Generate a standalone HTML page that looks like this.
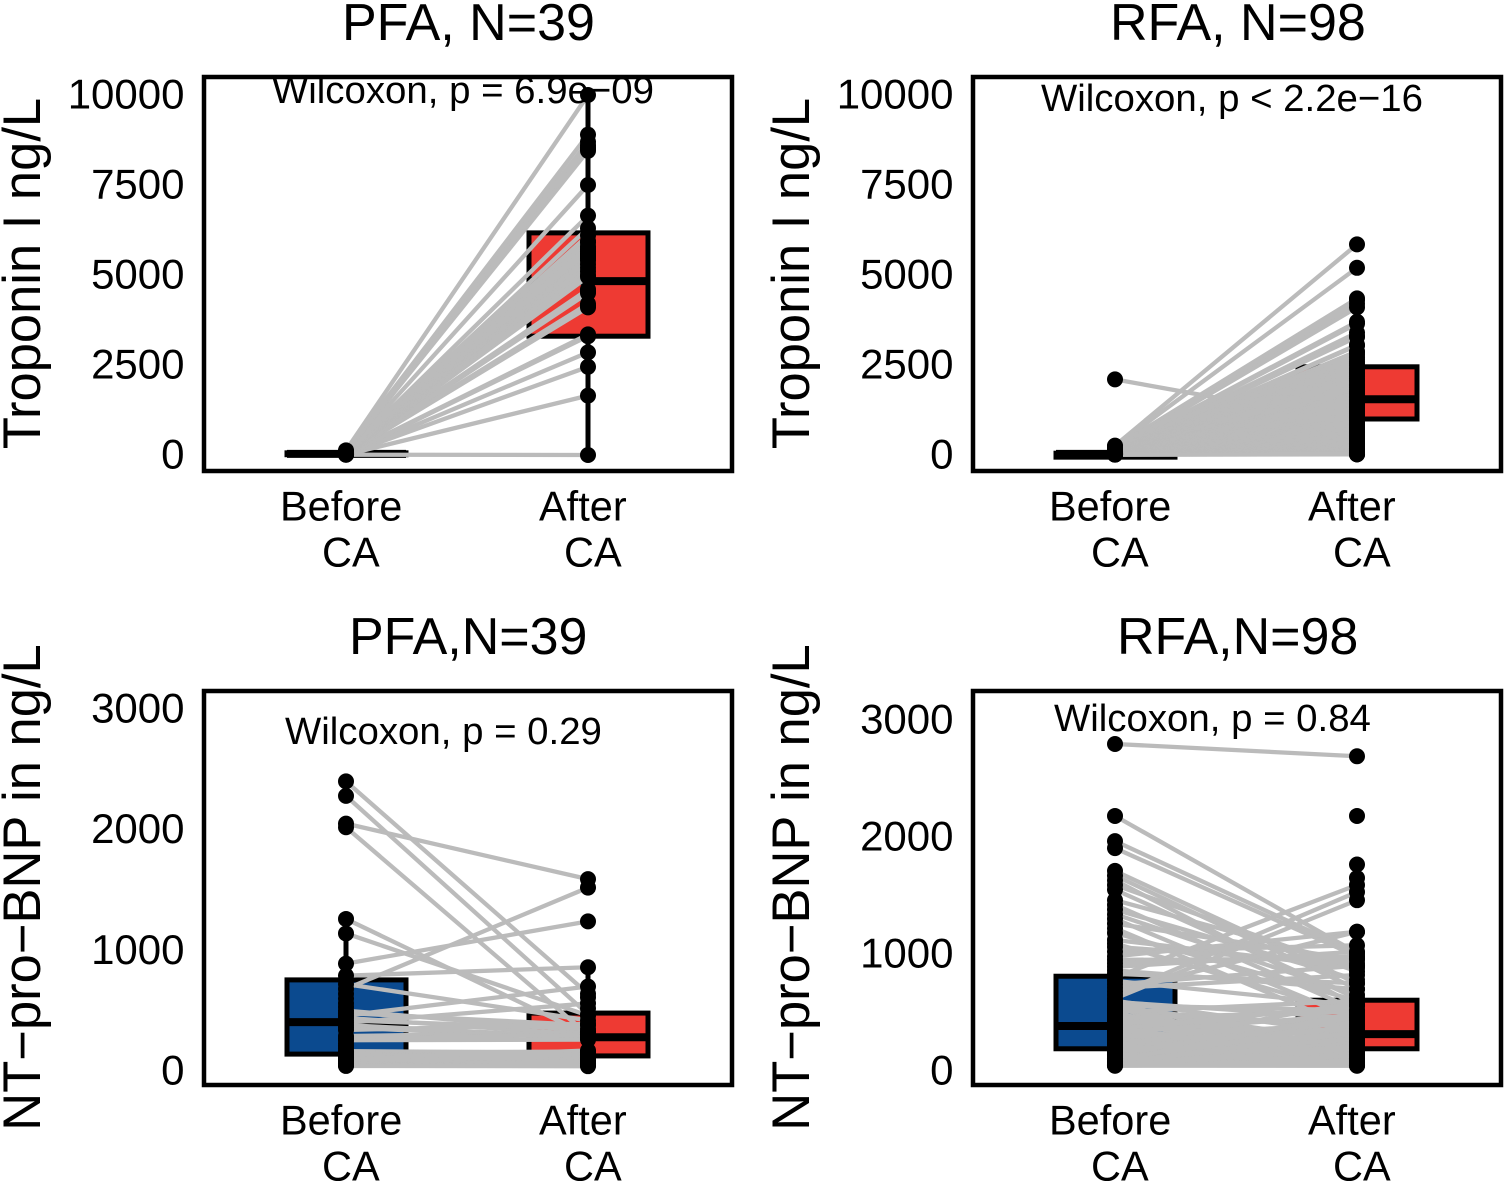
<!DOCTYPE html>
<html lang="en">
<head>
<meta charset="utf-8">
<title>Troponin I and NT-pro-BNP before and after CA</title>
<style>
html,body{margin:0;padding:0;background:#fff;width:1505px;height:1185px;overflow:hidden}
svg{display:block;font-family:"Liberation Sans",Arial,sans-serif;fill:#000}
</style>
</head>
<body>
<svg id="chart" xmlns="http://www.w3.org/2000/svg" width="1505" height="1185" viewBox="0 0 1505 1185"></svg>
<script>
// ---------- Data ----------
var categories = ['Before', 'After'];

var tropTicks = [0, 2500, 5000, 7500, 10000];
var bnpTicks = [0, 1000, 2000, 3000];

// Panel A: PFA troponin
var pfaTropBefore = [8,10,12,14,16,18,20,22,24,25,26,28,30,32,34,35,36,38,40,42,44,45,46,48,50,52,55,58,60,62,65,68,70,75,80,85,95,110,130];
var pfaTropAfter = [0,1650,2450,2850,3300,3350,4100,4150,4200,4500,4550,4600,4950,5000,5100,5200,5300,5400,5450,5500,5550,5600,5650,5700,5750,5800,5900,5950,6100,6300,6650,7500,8450,8500,8550,8600,8700,8900,10000];
var pfaTropBoxBefore = [8, 30, 60];
var pfaTropBoxAfter = [3300, 4830, 6170];
var pfaTropWhiskBefore = [8, 130];
var pfaTropWhiskAfter = [0, 10000];

// Panel B: RFA troponin
var rfaTropBefore = [2100,260,240,215,195,170,150,140,130,125,120,115,110,108,105,102,100,98,96,94,92,90,88,86,85,84,82,80,78,76,75,74,72,70,69,68,66,65,64,62,60,59,58,57,56,55,54,53,52,51,50,49,48,47,46,45,44,43,42,41,40,39,38,37,36,35,34,33,32,31,30,30,29,28,28,27,26,26,25,25,24,24,23,22,22,21,20,20,19,18,18,17,16,15,14,13,12,10];
var rfaTropAfter = [890,5850,5200,4350,4300,4200,4100,3700,3650,3400,3300,3280,3060,3040,2880,2860,2800,2720,2660,2590,2530,2480,2410,2360,2300,2250,2190,2130,2080,2030,1970,1920,1880,1820,1770,1720,1680,1630,1590,1530,1490,1440,1400,1350,1310,1270,1220,1180,1140,1090,1050,1010,970,930,880,850,810,770,730,700,660,620,590,550,520,490,450,420,390,360,330,300,280,250,230,210,190,170,150,130,115,100,90,80,70,60,55,50,45,40,35,30,28,26,24,22,20,18];
var rfaTropBoxBefore = [-60, 30, 50];
var rfaTropBoxAfter = [1000, 1550, 2450];
var rfaTropWhiskBefore = [10, 260];
var rfaTropWhiskAfter = [18, 3400];

// Panel C: PFA NT-pro-BNP
var pfaBnpBefore = [2400,2280,2050,2020,1260,1140,890,790,720,680,500,480,460,440,420,400,380,360,340,290,270,255,165,155,145,135,125,115,105,95,85,75,70,65,60,55,50,45,42];
var pfaBnpAfter = [640,470,1590,300,300,460,1240,860,420,1520,330,380,700,300,350,560,280,270,390,320,300,260,150,160,110,130,120,100,90,170,80,70,140,60,75,50,45,65,40];
var pfaBnpExtraBefore = [640,600,560,530,230,210,190];
var pfaBnpExtraAfter = [610,520];
var pfaBnpBoxBefore = [140, 405, 755];
var pfaBnpBoxAfter = [125, 280, 480];
var pfaBnpWhiskBefore = [42, 1260];
var pfaBnpWhiskAfter = [40, 860];

// Panel D: RFA NT-pro-BNP
var rfaBnpBefore = [2795,2180,1965,1905,1710,1670,1630,1590,1550,1460,1420,1380,1340,1300,1260,1220,1180,1120,1090,1060,1020,980,950,920,890,860,830,800,770,740,710,680,650,620,600,590,575,560,550,535,520,505,490,480,465,450,440,425,410,400,385,370,360,345,330,320,305,290,280,270,260,250,240,230,220,210,200,190,180,170,160,150,140,130,125,120,110,105,100,95,90,85,80,75,70,65,60,58,55,52,50,48,46,45];
var rfaBnpAfter = [2690,1010,1010,980,750,700,560,850,620,900,520,780,650,440,950,350,600,880,480,920,1075,1190,960,980,1020,700,750,1590,560,900,820,1190,1530,1460,310,450,120,520,240,90,380,600,170,75,290,510,140,60,430,225,340,95,560,195,480,110,270,70,410,155,85,360,130,250,65,590,210,100,320,55,180,460,80,115,275,58,145,395,52,235,105,500,160,68,330,50,125,215,48,88,46,190,62,45];
var rfaBnpExtraAfter = [2180, 1765, 1650];
var rfaBnpBoxBefore = [190, 385, 810];
var rfaBnpBoxAfter = [190, 315, 605];
var rfaBnpWhiskBefore = [45, 1200];
var rfaBnpWhiskAfter = [45, 975];

// ---------- Helpers ----------
var NS = 'http://www.w3.org/2000/svg';
var chart = document.getElementById('chart');
var FILL_BEFORE = '#0b4a8f', FILL_AFTER = '#ee3a33', LINE_GREY = '#bbbbbb';

function mk(parent, tag, attrs, text) {
  var el = document.createElementNS(NS, tag);
  for (var k in attrs) el.setAttribute(k, attrs[k]);
  if (text !== undefined) el.textContent = text;
  parent.appendChild(el);
  return el;
}

function linearScale(d0, d1, r0, r1) {
  return function (v) { return r0 + (v - d0) * (r1 - r0) / (d1 - d0); };
}

function drawBox(g, x, y, stats, whisk, fill, label) {
  var w = mk(g, 'line', {x1: x, x2: x, y1: y(whisk[0]), y2: y(whisk[1]), stroke: '#000', 'stroke-width': 5});
  
  
  var top = y(stats[2]), bot = y(stats[0]);
  var r = mk(g, 'rect', {x: x - 59, y: top, width: 119, height: bot - top, fill: fill, stroke: '#000', 'stroke-width': 5});
  
  
  var m = mk(g, 'line', {x1: x - 59, x2: x + 60, y1: y(stats[1]), y2: y(stats[1]), stroke: '#000', 'stroke-width': 8});
  
  
}

function drawPanel(p) {
  var g = mk(chart, 'g', {});
  
  

  var y = linearScale(0, p.ticks[p.ticks.length - 1], p.y0, p.yMax);
  var x = function (i) { return p.left + (i === 0 ? 142 : 384); };

  // title
  var t = mk(g, 'text', {x: p.titleX, y: p.top - 37, 'font-size': 52}, p.title);
  
  

  // y title
  var yt = mk(g, 'text', {transform: 'translate(' + (p.left - 164) + ',' + p.yTitleY + ') rotate(-90)', 'text-anchor': 'middle', 'font-size': 52.5}, p.yTitle);
  
  

  // y ticks
  p.ticks.forEach(function (v) {
    var tl = mk(g, 'text', {x: p.left - 19.5, y: y(v) + 13.5, 'text-anchor': 'end', 'font-size': 42}, String(v));
    
    
  });

  // x labels
  categories.forEach(function (c, i) {
    var xl = mk(g, 'text', {x: p.left + (i === 0 ? 76 : 335), y: p.top + 443.5, 'font-size': 41.5}, c);
    
    
    var xl2 = mk(g, 'text', {x: p.left + (i === 0 ? 118 : 360), y: p.top + 489.5, 'font-size': 41.5}, 'CA');
    
    
  });

  // boxes and whiskers
  drawBox(g, x(0), y, p.boxBefore, p.whiskBefore, FILL_BEFORE, 'before');
  drawBox(g, x(1), y, p.boxAfter, p.whiskAfter, FILL_AFTER, 'after');

  // paired lines
  var lines = mk(g, 'g', {stroke: LINE_GREY, 'stroke-width': 4.3});
  
  
  p.before.forEach(function (b, i) {
    var l = mk(lines, 'line', {x1: x(0), y1: y(b), x2: x(1), y2: y(p.after[i])});
    
    
  });

  // p-value label
  var pv = mk(g, 'text', {x: p.pX, y: p.pY, 'font-size': 38.4}, p.pText);
  
  

  // points
  var pts = mk(g, 'g', {fill: '#000'});
  
  
  p.before.concat(p.extraBefore || []).forEach(function (b) {
    var c = mk(pts, 'circle', {cx: x(0), cy: y(b), r: 8});
    
    
  });
  p.after.concat(p.extraAfter || []).forEach(function (a) {
    var c = mk(pts, 'circle', {cx: x(1), cy: y(a), r: 8});
    
    
  });

  // frame
  var f = mk(g, 'rect', {x: p.left, y: p.top, width: 528, height: 394, fill: 'none', stroke: '#000', 'stroke-width': 4.5});
  
  
}

// ---------- Panels ----------
drawPanel({name: 'panel-pfa-troponin', title: 'PFA, N=39', titleX: 342, yTitle: 'Troponin I ng/L', yTitleY: 273.5,
  left: 204, top: 77, y0: 455, yMax: 95, ticks: tropTicks,
  pText: 'Wilcoxon, p = 6.9e\u221209', pX: 272, pY: 103,
  before: pfaTropBefore, after: pfaTropAfter, boxBefore: pfaTropBoxBefore, boxAfter: pfaTropBoxAfter,
  whiskBefore: pfaTropWhiskBefore, whiskAfter: pfaTropWhiskAfter});

drawPanel({name: 'panel-rfa-troponin', title: 'RFA, N=98', titleX: 1110, yTitle: 'Troponin I ng/L', yTitleY: 273.5,
  left: 973, top: 77, y0: 455, yMax: 95, ticks: tropTicks,
  pText: 'Wilcoxon, p < 2.2e\u221216', pX: 1041, pY: 111,
  before: rfaTropBefore, after: rfaTropAfter, boxBefore: rfaTropBoxBefore, boxAfter: rfaTropBoxAfter,
  whiskBefore: rfaTropWhiskBefore, whiskAfter: rfaTropWhiskAfter});

drawPanel({name: 'panel-pfa-bnp', title: 'PFA,N=39', titleX: 349, yTitle: 'NT\u2212pro\u2212BNP in ng/L', yTitleY: 887.5,
  left: 204, top: 691, y0: 1071, yMax: 709, ticks: bnpTicks,
  pText: 'Wilcoxon, p = 0.29', pX: 285, pY: 744,
  before: pfaBnpBefore, after: pfaBnpAfter, extraBefore: pfaBnpExtraBefore, extraAfter: pfaBnpExtraAfter,
  boxBefore: pfaBnpBoxBefore, boxAfter: pfaBnpBoxAfter,
  whiskBefore: pfaBnpWhiskBefore, whiskAfter: pfaBnpWhiskAfter});

drawPanel({name: 'panel-rfa-bnp', title: 'RFA,N=98', titleX: 1117, yTitle: 'NT\u2212pro\u2212BNP in ng/L', yTitleY: 887.5,
  left: 973, top: 691, y0: 1071, yMax: 720, ticks: bnpTicks,
  pText: 'Wilcoxon, p = 0.84', pX: 1054, pY: 731,
  before: rfaBnpBefore, after: rfaBnpAfter, extraAfter: rfaBnpExtraAfter, boxBefore: rfaBnpBoxBefore, boxAfter: rfaBnpBoxAfter,
  whiskBefore: rfaBnpWhiskBefore, whiskAfter: rfaBnpWhiskAfter});
</script>
</body>
</html>
